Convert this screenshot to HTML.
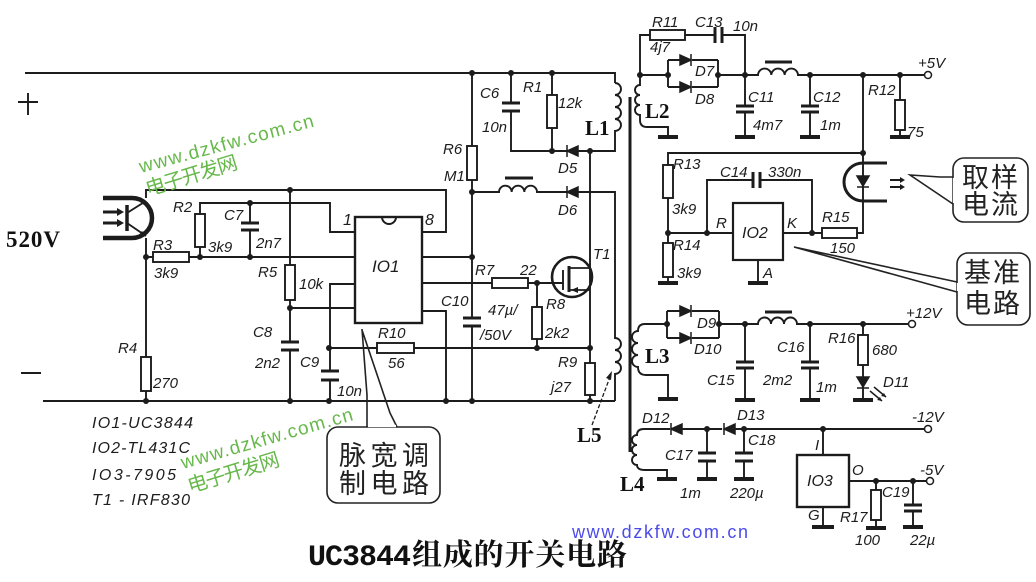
<!DOCTYPE html>
<html><head><meta charset="utf-8">
<style>
html,body{margin:0;padding:0;background:#fff;}
svg{display:block;}
.w{fill:none;stroke:#1c1c1c;stroke-width:1.9;}
.p{fill:none;stroke:#1c1c1c;stroke-width:3;}
.gb{fill:none;stroke:#1c1c1c;stroke-width:4;}
.r{fill:#fff;stroke:#1c1c1c;stroke-width:1.9;}
.t{font-family:"Liberation Sans",sans-serif;font-style:italic;font-size:15px;fill:#1c1c1c;}
.b{font-family:"Liberation Serif",serif;font-weight:bold;font-size:21px;fill:#111;}
.cj{font-family:"Liberation Sans","Noto Sans CJK SC",sans-serif;font-size:27px;fill:#222;}
.g{font-family:"Liberation Sans","Noto Sans CJK SC",sans-serif;fill:#67b84a;}
</style></head><body>
<svg width="1036" height="582" viewBox="0 0 1036 582" xmlns="http://www.w3.org/2000/svg">
<rect width="1036" height="582" fill="#fff"/>

<!-- +/- -->
<path class="w" d="M18,102 H38 M28,93 V115 M21,373 H41"/>
<text x="6" y="247" font-family="Liberation Serif,serif" font-weight="bold" font-size="23" fill="#111" textLength="54">520V</text>

<g class="w">
<path d="M25,73 H615 V83"/>
<path d="M43,401 H615"/>
<path d="M615,83 a6,6 0 0 1 0,12 a6,6 0 0 1 0,12 a6,6 0 0 1 0,12 a6,6 0 0 1 0,12 V151 H511 V111"/>
<path d="M511,73 V103"/>
<path d="M552,73 V95 M552,128 V151"/>
<path d="M472,73 V146 M472,180 V318 M472,326 V401"/>
<path d="M472,192 H499 a6.33,6.33 0 0 1 12.67,0 a6.33,6.33 0 0 1 12.67,0 a6.33,6.33 0 0 1 12.67,0 H615 V338 a6,6 0 0 1 0,12 a6,6 0 0 1 0,12 a6,6 0 0 1 0,12 V401"/>
<path d="M590,151 V363 M590,395 V401"/>
<path d="M329,348 H377 M414,348 H590"/>
<path d="M422,283 H492 M528,283 H563"/>
<path d="M537,283 V307 M537,339 V348"/>
<path d="M422,257 H472"/>
<path d="M422,311 H446 V401"/>
<path d="M422,232 H446 V190 H146 V198"/>
<path d="M146,238 V357 M146,391 V401"/>
<path d="M355,232 H330 V203 H200 V214 M200,247 V257"/>
<path d="M250,203 V223 M250,230 V257"/>
<path d="M146,257 H153 M189,257 H355"/>
<path d="M290,190 V265 M290,300 V342 M290,350 V401"/>
<path d="M290,308 H355"/>
<path d="M355,284 H330 V371 M330,380 V401"/>

<path d="M640,75 V85 a5,5 0 0 0 0,10 a5,5 0 0 0 0,10 a5,5 0 0 0 0,10 V120 Q640,127 647,127 H668 V137"/>
<path d="M640,75 V35 H650 M685,35 H715 M722,35 H745 V75"/>
<path d="M640,75 H668 M668,60 V87 M668,60 H680 M692,60 H718 M668,87 H680 M692,87 H718 M718,60 V87 M718,75 H758 a6.67,6.67 0 0 1 13.33,0 a6.67,6.67 0 0 1 13.33,0 a6.67,6.67 0 0 1 13.33,0 H925"/>
<path d="M745,75 V106 M745,112 V137"/>
<path d="M810,75 V106 M810,112 V137"/>
<path d="M900,75 V100 M900,130 V137"/>
<path d="M863,75 V153 H668 V165 M668,198 V243 M668,277 V283"/>
<path d="M668,233 H733"/>
<path d="M707,233 V180 H753 M760,180 H812 V233"/>
<path d="M783,233 H822 M857,233 H863 V153"/>
<path d="M758,260 V283"/>

<path d="M667,324 H645 Q638,324 638,331 a6,6 0 0 0 0,12 a6,6 0 0 0 0,12 a6,6 0 0 0 0,12 Q638,375 646,375 H668 V399"/>
<path d="M667,311 V338 M667,311 H680 M692,311 H719 M667,338 H680 M692,338 H719 M719,311 V338 M719,324 H758 a6.5,6.5 0 0 1 13,0 a6.5,6.5 0 0 1 13,0 a6.5,6.5 0 0 1 13,0 H909"/>
<path d="M745,324 V362 M745,368 V400"/>
<path d="M810,324 V362 M810,368 V400"/>
<path d="M863,324 V335 M863,365 V400"/>

<path d="M670,429 H644 Q637,429 637,435 a5,5 0 0 0 0,10 a5,5 0 0 0 0,10 a5,5 0 0 0 0,10 Q637,470 645,470 H667 V479"/>
<path d="M682,429 H722 M735,429 H925"/>
<path d="M707,429 V453 M707,461 V479"/>
<path d="M744,429 V453 M744,461 V479"/>
<path d="M823,429 V455 M823,507 V527"/>
<path d="M849,481 H927"/>
<path d="M876,481 V490 M876,520 V528"/>
<path d="M913,481 V505 M913,511 V527"/>
</g>

<path d="M630,97 V452" stroke="#1c1c1c" stroke-width="3"/>

<path class="p" d="M505,178 H533 M765,62 H792 M765,312 H792"/>

<path class="p" d="M502,103 H520 M502,111 H520
M241,223 H259 M241,230 H259
M281,342 H299 M281,350 H299
M321,371 H339 M321,380 H339
M463,318 H481 M463,326 H481
M715,27 V43 M722,27 V43
M736,106 H754 M736,112 H754
M801,106 H819 M801,112 H819
M753,172 V188 M760,172 V188
M736,362 H754 M736,368 H754
M801,362 H819 M801,368 H819
M698,453 H716 M698,461 H716
M735,453 H753 M735,461 H753
M904,505 H922 M904,511 H922"/>

<path class="gb" d="M658,137 H678 M735,137 H755 M800,137 H820 M890,137 H910
M658,283 H678 M748,283 H768
M658,399 H678 M735,400 H755 M800,400 H820 M853,400 H873
M657,479 H677 M697,479 H717 M734,479 H754 M812,527 H834 M866,528 H886 M903,527 H923"/>

<g class="r">
<rect x="547" y="95" width="10" height="33"/>
<rect x="195" y="214" width="10" height="33"/>
<rect x="153" y="252" width="36" height="10"/>
<rect x="141" y="357" width="10" height="34"/>
<rect x="285" y="265" width="10" height="35"/>
<rect x="467" y="146" width="10" height="34"/>
<rect x="492" y="278" width="36" height="10"/>
<rect x="532" y="307" width="10" height="32"/>
<rect x="585" y="363" width="10" height="32"/>
<rect x="377" y="343" width="37" height="10"/>
<rect x="650" y="30" width="35" height="10"/>
<rect x="895" y="100" width="10" height="30"/>
<rect x="663" y="165" width="10" height="33"/>
<rect x="663" y="243" width="10" height="34"/>
<rect x="822" y="228" width="35" height="10"/>
<rect x="858" y="335" width="10" height="30"/>
<rect x="871" y="490" width="10" height="30"/>
</g>

<rect x="355" y="217" width="67" height="106" fill="#fff" stroke="#1c1c1c" stroke-width="2.4"/>
<path d="M382,217 A7,7 0 0 0 396,217" fill="none" stroke="#1c1c1c" stroke-width="2"/>
<rect x="733" y="203" width="50" height="57" fill="#fff" stroke="#1c1c1c" stroke-width="2.2"/>
<rect x="797" y="455" width="52" height="52" fill="#fff" stroke="#1c1c1c" stroke-width="2.4"/>

<g fill="#1c1c1c" stroke="#1c1c1c" stroke-width="1.5">
<path d="M680,55 L691,60 L680,65 Z M691,54 V66"/>
<path d="M680,82 L691,87 L680,92 Z M691,81 V93"/>
<path d="M680,306 L691,311 L680,316 Z M691,305 V317"/>
<path d="M680,333 L691,338 L680,343 Z M691,332 V344"/>
<path d="M578,146 L567,151 L578,156 Z M567,145 V157"/>
<path d="M578,187 L567,192 L578,197 Z M567,186 V198"/>
<path d="M682,424 L671,429 L682,434 Z M671,423 V435"/>
<path d="M735,424 L724,429 L735,434 Z M724,423 V435"/>
<path d="M857,377 L869,377 L863,387 Z M857,388 H869"/>
<path d="M857,176 L869,176 L863,186 Z M857,187 H869"/>
</g>
<path d="M870,391 L882,401 M874,387 L886,397" stroke="#1c1c1c" stroke-width="1.5"/>
<path d="M882,401 l-5,-1 l3,-3 Z M886,397 l-5,-1 l3,-3 Z" fill="#1c1c1c"/>

<path d="M887,163 H863 A19,19 0 0 0 863,201 H887" fill="none" stroke="#1c1c1c" stroke-width="3"/>
<path d="M890,180 H903 M890,187 H903" stroke="#1c1c1c" stroke-width="2"/>
<path d="M905,180 l-5,-3 v6 Z M905,187 l-5,-3 v6 Z" fill="#1c1c1c"/>

<path d="M103,198 H132 A20,20 0 0 1 132,238 H103" fill="none" stroke="#1c1c1c" stroke-width="4.5"/>
<path d="M127,205 V231" stroke="#1c1c1c" stroke-width="3.5"/>
<path d="M127,213 L146,201 M127,223 L146,236" stroke="#1c1c1c" stroke-width="1.8"/>
<path d="M146,236 l-7,-1 l3,-4 Z" fill="#1c1c1c"/>
<path d="M103,212 H118 M103,223 H118" stroke="#1c1c1c" stroke-width="3"/>
<path d="M124,212 l-7,-4 v8 Z M124,223 l-7,-4 v8 Z" fill="#1c1c1c"/>

<circle cx="572" cy="277" r="20" fill="none" stroke="#1c1c1c" stroke-width="2.6"/>
<path d="M563,270 V290" stroke="#1c1c1c" stroke-width="1.9"/>
<path d="M569,266 V292" stroke="#1c1c1c" stroke-width="3"/>
<path d="M569,268 H590 M569,290 H590" stroke="#1c1c1c" stroke-width="1.8"/>
<path d="M571,290 l7,-3 v6 Z" fill="#1c1c1c"/>

<g fill="#1c1c1c">
<circle cx="472" cy="73" r="3"/><circle cx="511" cy="73" r="3"/><circle cx="552" cy="73" r="3"/>
<circle cx="552" cy="151" r="3"/><circle cx="590" cy="151" r="3"/><circle cx="472" cy="192" r="3"/>
<circle cx="472" cy="257" r="3"/><circle cx="537" cy="283" r="3"/><circle cx="537" cy="348" r="3"/>
<circle cx="590" cy="348" r="3"/><circle cx="590" cy="401" r="3"/><circle cx="472" cy="401" r="3"/>
<circle cx="446" cy="401" r="3"/><circle cx="329" cy="401" r="3"/><circle cx="290" cy="401" r="3"/>
<circle cx="146" cy="401" r="3"/><circle cx="146" cy="257" r="3"/><circle cx="200" cy="257" r="3"/>
<circle cx="250" cy="257" r="3"/><circle cx="250" cy="203" r="3"/><circle cx="290" cy="190" r="3"/>
<circle cx="290" cy="308" r="3"/><circle cx="329" cy="348" r="3"/>
<circle cx="640" cy="75" r="3"/><circle cx="668" cy="75" r="3"/><circle cx="718" cy="75" r="3"/>
<circle cx="745" cy="75" r="3"/><circle cx="810" cy="75" r="3"/><circle cx="863" cy="75" r="3"/>
<circle cx="900" cy="75" r="3"/><circle cx="863" cy="153" r="3"/><circle cx="668" cy="233" r="3"/>
<circle cx="707" cy="233" r="3"/><circle cx="812" cy="233" r="3"/>
<circle cx="667" cy="324" r="3"/><circle cx="719" cy="324" r="3"/><circle cx="745" cy="324" r="3"/>
<circle cx="810" cy="324" r="3"/><circle cx="863" cy="324" r="3"/>
<circle cx="707" cy="429" r="3"/><circle cx="744" cy="429" r="3"/><circle cx="823" cy="429" r="3"/>
<circle cx="876" cy="481" r="3"/><circle cx="913" cy="481" r="3"/>
</g>
<g fill="#fff" stroke="#1c1c1c" stroke-width="1.5">
<circle cx="928" cy="75" r="3.5"/><circle cx="912" cy="324" r="3.5"/>
<circle cx="928" cy="429" r="3.5"/><circle cx="930" cy="481" r="3.5"/>
</g>

<path d="M592,425 L610,377" stroke="#1c1c1c" stroke-width="1.3" stroke-dasharray="4,2"/>
<path d="M612,371 l-1,9 l-5,-2 Z" fill="#1c1c1c"/>

<g fill="none" stroke="#222" stroke-width="1.6">
<rect x="327" y="427" width="113" height="76" rx="11"/>
<path d="M367,427 V395 L362,329 M397,427 L390,413 L362,330"/>
<rect x="953" y="158" width="75" height="64" rx="11"/>
<path d="M953,177 L940,177 L910,175 L953,204"/>
<rect x="957" y="253" width="73" height="72" rx="11"/>
<path d="M957,282 L794,247 L957,292"/>
</g>
<path d="M368,426 H396 M954,178 V203 M958,283 V291" stroke="#fff" stroke-width="2.2"/>
<text class="cj" x="339" y="465" textLength="90">脉宽调</text>
<text class="cj" x="339" y="493" textLength="90">制电路</text>
<text class="cj" x="962" y="187" font-size="26" textLength="56">取样</text>
<text class="cj" x="962" y="214" font-size="26" textLength="56">电流</text>
<text class="cj" x="964" y="282" font-size="26" textLength="56">基准</text>
<text class="cj" x="964" y="313" font-size="26" textLength="56">电路</text>

<text class="b" x="585" y="135">L1</text>
<text class="b" x="645" y="118">L2</text>
<text class="b" x="645" y="363">L3</text>
<text class="b" x="620" y="491">L4</text>
<text class="b" x="577" y="442">L5</text>

<g class="t">
<text x="173" y="212">R2</text>
<text x="224" y="220">C7</text>
<text x="208" y="252">3k9</text>
<text x="256" y="248">2n7</text>
<text x="153" y="250">R3</text>
<text x="154" y="278">3k9</text>
<text x="258" y="277">R5</text>
<text x="299" y="289">10k</text>
<text x="118" y="353">R4</text>
<text x="153" y="388">270</text>
<text x="253" y="337">C8</text>
<text x="255" y="368">2n2</text>
<text x="300" y="367">C9</text>
<text x="337" y="396">10n</text>
<text x="378" y="338">R10</text>
<text x="388" y="368">56</text>
<text x="92" y="428" font-size="16" textLength="101">IO1-UC3844</text>
<text x="92" y="453" font-size="16" textLength="98">IO2-TL431C</text>
<text x="92" y="480" font-size="16" textLength="84">IO3-7905</text>
<text x="92" y="505" font-size="16" textLength="98">T1 - IRF830</text>
<text x="443" y="154">R6</text>
<text x="444" y="181">M1</text>
<text x="480" y="98">C6</text>
<text x="482" y="132">10n</text>
<text x="523" y="92">R1</text>
<text x="558" y="108">12k</text>
<text x="558" y="173">D5</text>
<text x="558" y="215">D6</text>
<text x="372" y="272" font-size="17">IO1</text>
<text x="343" y="225" font-size="16">1</text>
<text x="425" y="225" font-size="16">8</text>
<text x="593" y="259">T1</text>
<text x="475" y="275">R7</text>
<text x="520" y="275">22</text>
<text x="441" y="306">C10</text>
<text x="488" y="315">47µ/</text>
<text x="480" y="340">/50V</text>
<text x="546" y="309">R8</text>
<text x="545" y="338">2k2</text>
<text x="558" y="367">R9</text>
<text x="551" y="392">j27</text>
<text x="652" y="27">R11</text>
<text x="695" y="27">C13</text>
<text x="733" y="31">10n</text>
<text x="650" y="52">4j7</text>
<text x="695" y="76">D7</text>
<text x="695" y="104">D8</text>
<text x="748" y="102">C11</text>
<text x="753" y="130">4m7</text>
<text x="813" y="102">C12</text>
<text x="820" y="130">1m</text>
<text x="868" y="95">R12</text>
<text x="907" y="137">75</text>
<text x="918" y="68">+5V</text>
<text x="673" y="169">R13</text>
<text x="672" y="214">3k9</text>
<text x="673" y="250">R14</text>
<text x="677" y="278">3k9</text>
<text x="720" y="177">C14</text>
<text x="768" y="177">330n</text>
<text x="716" y="228">R</text>
<text x="787" y="228">K</text>
<text x="742" y="238" font-size="16">IO2</text>
<text x="763" y="278">A</text>
<text x="822" y="222">R15</text>
<text x="830" y="253">150</text>
<text x="697" y="328">D9</text>
<text x="694" y="354">D10</text>
<text x="707" y="385">C15</text>
<text x="763" y="385">2m2</text>
<text x="777" y="352">C16</text>
<text x="816" y="392">1m</text>
<text x="828" y="343">R16</text>
<text x="872" y="355">680</text>
<text x="883" y="387">D11</text>
<text x="906" y="318">+12V</text>
<text x="642" y="423">D12</text>
<text x="737" y="420">D13</text>
<text x="912" y="422">-12V</text>
<text x="665" y="460">C17</text>
<text x="680" y="498">1m</text>
<text x="748" y="445">C18</text>
<text x="730" y="498">220µ</text>
<text x="815" y="450">I</text>
<text x="807" y="486" font-size="16">IO3</text>
<text x="852" y="475">O</text>
<text x="808" y="520">G</text>
<text x="840" y="522">R17</text>
<text x="855" y="545">100</text>
<text x="882" y="497">C19</text>
<text x="920" y="475">-5V</text>
<text x="910" y="545">22µ</text>
</g>

<text class="g" font-size="19" transform="translate(141,173) rotate(-15)" textLength="180">www.dzkfw.com.cn</text>
<text class="g" font-size="20" transform="translate(148,196) rotate(-17)" textLength="95">电子开发网</text>
<text class="g" font-size="19" transform="translate(183,469) rotate(-16)" textLength="178">www.dzkfw.com.cn</text>
<text class="g" font-size="20" transform="translate(190,493) rotate(-17)" textLength="95">电子开发网</text>
<text x="572" y="538" font-family="Liberation Sans,sans-serif" font-size="18" fill="#4b4bea" textLength="176">www.dzkfw.com.cn</text>

<text x="308" y="565" font-family="'Liberation Mono',monospace" font-weight="bold" font-size="30" fill="#111" textLength="103">UC3844</text>
<text x="412" y="565" font-family="'Liberation Serif','Noto Serif CJK SC',serif" font-weight="bold" font-size="30" fill="#111" textLength="215">组成的开关电路</text>
</svg>
</body></html>
